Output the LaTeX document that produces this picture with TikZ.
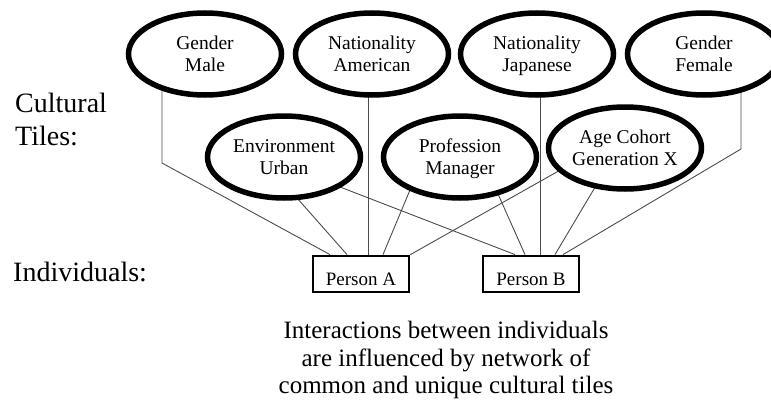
\documentclass[tikz,border=0pt]{standalone}
\usepackage{fontspec}
\setmainfont{Liberation Serif}
\usetikzlibrary{shapes.geometric,calc,backgrounds}
\begin{document}
\begin{tikzpicture}[x=1pt,y=-1pt,
  tile/.style={ellipse,draw=black,line width=5.5pt,fill=white,minimum width=153pt,minimum height=82pt,inner sep=0pt,align=center,text depth=0pt,font=\fontsize{19.5}{22}\selectfont},
  person/.style={draw=black,line width=2.8pt,fill=white,minimum width=96pt,minimum height=36pt,inner sep=0pt,text height=22pt,text depth=0pt,font=\fontsize{19}{22}\selectfont},
  conn/.style={draw=black!70,line width=0.9pt},
  lbl/.style={inner sep=0pt,align=left,font=\fontsize{28}{33}\selectfont}]
\useasboundingbox (0,0) rectangle (771,412);

% cultural tiles
\node[tile] (gm) at (205,54) {Gender\\Male};
\node[tile] (na) at (372,54) {Nationality\\American};
\node[tile] (nj) at (537,54) {Nationality\\Japanese};
\node[tile] (gf) at (704,54) {Gender\\Female};
\node[tile] (eu) at (284,157) {Environment\\Urban};
\node[tile] (pm) at (460,157) {Profession\\Manager};
\node[tile] (ac) at (625,148) {Age Cohort\\Generation X};

% individuals
\node[person] (pa) at (361,274) {Person A};
\node[person] (pb) at (531,274) {Person B};

% labels
\node[lbl,anchor=west] (lct) at (15,119) {Cultural\\Tiles:};
\node[lbl,anchor=base west] (lind) at (13,281) {Individuals:};
\node[align=center,inner sep=0pt,font=\fontsize{25}{27.5}\selectfont] (cap) at (446,360)
  {Interactions between individuals\\are influenced by network of\\common and unique cultural tiles};

% attachment points
\coordinate (pa1) at ($(pa.north)+(-31,0)$);
\coordinate (pa2) at ($(pa.north)+(-14,0)$);
\coordinate (pa3) at ($(pa.north)+(7,0)$);
\coordinate (pa4) at ($(pa.north)+(22,0)$);
\coordinate (pa5) at (pa.north east);
\coordinate (pb1) at ($(pb.north)+(-16,0)$);
\coordinate (pb2) at ($(pb.north)+(-6,0)$);
\coordinate (pb3) at ($(pb.north)+(9,0)$);
\coordinate (pb4) at ($(pb.north)+(24,0)$);
\coordinate (pb5) at ($(pb.north)+(32,0)$);
\coordinate (gmbend) at (162,163);
\coordinate (gfbend) at (741,149);
\coordinate (euA) at ($(eu.center)+(13,41)$);
\coordinate (euB) at ($(eu.center)+(56,30)$);
\coordinate (pmA) at ($(pm.center)+(-50,33)$);
\coordinate (pmB) at ($(pm.center)+(38,37)$);
\coordinate (acA) at ($(ac.center)+(-70,25)$);
\coordinate (acB) at ($(ac.center)+(-31,41)$);

\begin{scope}[on background layer]
  \draw[conn] (gm.center -| gmbend) -- (gmbend) -- (pa1);
  \draw[conn] (na.center -| pa3) -- (pa3);
  \draw[conn] (nj.center -| pb3) -- (pb3);
  \draw[conn] (gf.center -| gfbend) -- (gfbend) -- (pb5);
  \draw[conn] ($(euA)!-10pt!(pa2)$) -- (pa2);
  \draw[conn] ($(euB)!-10pt!(pb1)$) -- (pb1);
  \draw[conn] ($(pmA)!-10pt!(pa4)$) -- (pa4);
  \draw[conn] ($(pmB)!-10pt!(pb2)$) -- (pb2);
  \draw[conn] ($(acA)!-10pt!(pa5)$) -- (pa5);
  \draw[conn] ($(acB)!-10pt!(pb4)$) -- (pb4);
\end{scope}
\end{tikzpicture}
\end{document}
